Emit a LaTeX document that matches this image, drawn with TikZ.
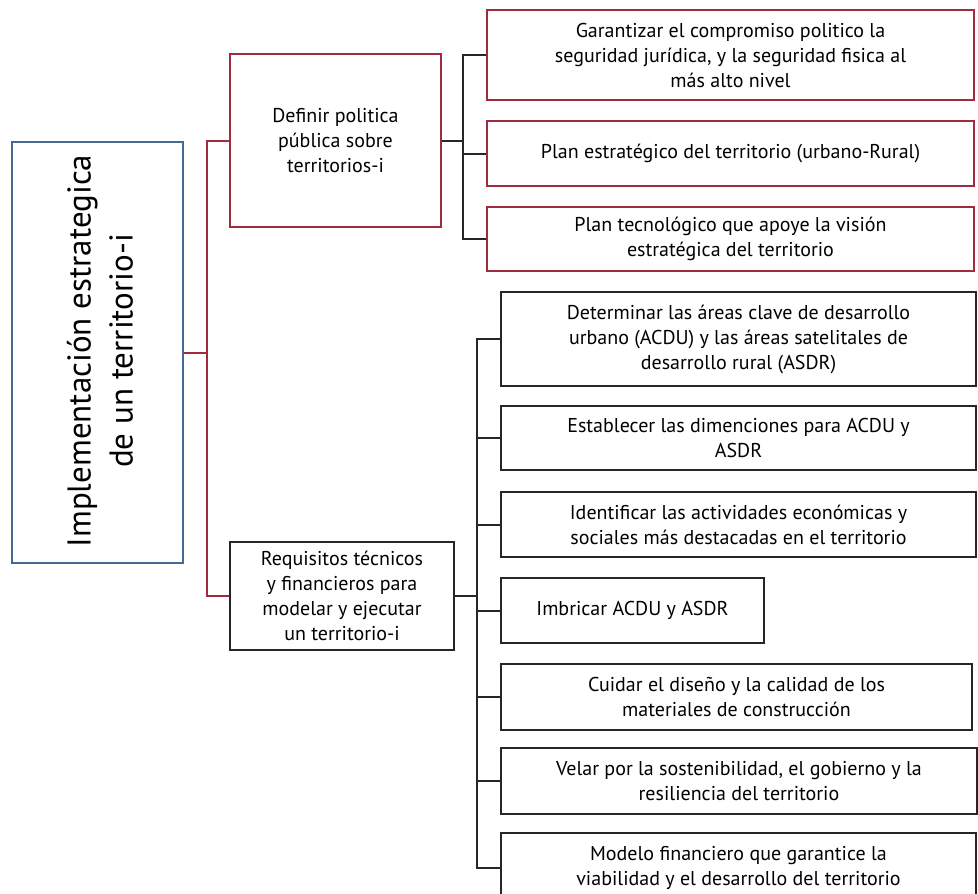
\documentclass[tikz,border=0pt]{standalone}
\usepackage{fontspec}
\setmainfont{PT Sans}
\definecolor{boxred}{RGB}{160,42,62}
\definecolor{boxblue}{RGB}{70,105,145}
\begin{document}
\begin{tikzpicture}[x=1pt,y=-1pt,
  base/.style={draw,rectangle,align=center,inner sep=0pt,font=\fontsize{20}{25}\selectfont},
  rbox/.style={base,draw=boxred,line width=1.6pt},
  kbox/.style={base,draw=black!85,line width=2pt},
  mainbox/.style={draw=boxblue,line width=1.6pt,rectangle,inner sep=0pt},
  rconn/.style={draw=boxred,line width=2pt},
  kconn/.style={draw=black!85,line width=2pt}]
\useasboundingbox (0,0) rectangle (978,894);
% main box
\node[mainbox,minimum width=171pt,minimum height=421pt] (main) at (97.5,352.5) {};
\node[rotate=90,align=center,font=\fontsize{33}{42}\selectfont] (maintext) at (100,351) {Implementación estrategica\\de un territorio-i};
% second level
\node[rbox,minimum width=211pt,minimum height=173pt] (def) at (335.5,140.5) {Definir politica\\pública sobre\\territorios-i};
\node[kbox,minimum width=224pt,minimum height=108pt] (req) at (342,596) {Requisitos técnicos\\y financieros para\\modelar y ejecutar\\un territorio-i};
% top group
\node[rbox,minimum width=487pt,minimum height=90pt] (g1) at (730.5,55) {Garantizar el compromiso politico la\\seguridad jurídica, y la seguridad fisica al\\más alto nivel};
\node[rbox,minimum width=487pt,minimum height=65pt] (g2) at (730.5,153.5) {Plan estratégico del territorio (urbano-Rural)};
\node[rbox,minimum width=487pt,minimum height=64pt] (g3) at (730.5,239) {Plan tecnológico que apoye la visión\\estratégica del territorio};
% bottom group
\node[kbox,minimum width=475pt,minimum height=94pt] (b1) at (738.5,339) {Determinar las áreas clave de desarrollo\\urbano (ACDU) y las áreas satelitales de\\desarrollo rural (ASDR)};
\node[kbox,minimum width=475pt,minimum height=64pt] (b2) at (738.5,438) {Establecer las dimenciones para ACDU y\\ASDR};
\node[kbox,minimum width=475pt,minimum height=65pt] (b3) at (738.5,524.5) {Identificar las actividades económicas y\\sociales más destacadas en el territorio};
\node[kbox,minimum width=263pt,minimum height=65pt] (b4) at (632.5,610.5) {Imbricar ACDU y ASDR};
\node[kbox,minimum width=471pt,minimum height=66pt] (b5) at (736.5,697) {Cuidar el diseño y la calidad de los\\materiales de construcción};
\node[kbox,minimum width=476pt,minimum height=66pt] (b6) at (739,781) {Velar por la sostenibilidad, el gobierno y la\\resiliencia del territorio};
\node[kbox,minimum width=475pt,minimum height=70pt] (b7) at (738.5,868) {Modelo financiero que garantice la\\viabilidad y el desarrollo del territorio};
% junction coordinates
\coordinate (jL) at (207,0);
\coordinate (jT) at (463,0);
\coordinate (jB) at (477,0);
% red connectors
\draw[rconn] (main.east) -- (main.east -| jL);
\draw[rconn] (def.west) -- (def.west -| jL) -- (req.west -| jL) -- (req.west);
% top connectors
\draw[kconn] (def.east) -- (def.east -| jT);
\draw[kconn] (g1.west) -- (g1.west -| jT) -- (g3.west -| jT) -- (g3.west);
\draw[kconn] (g2.west) -- (g2.west -| jT);
% bottom connectors
\draw[kconn] (req.east) -- (req.east -| jB);
\draw[kconn] (b1.west) -- (b1.west -| jB) -- (b7.west -| jB) -- (b7.west);
\foreach \n in {b2,b3,b4,b5,b6} \draw[kconn] (\n.west) -- (\n.west -| jB);
\end{tikzpicture}
\end{document}
